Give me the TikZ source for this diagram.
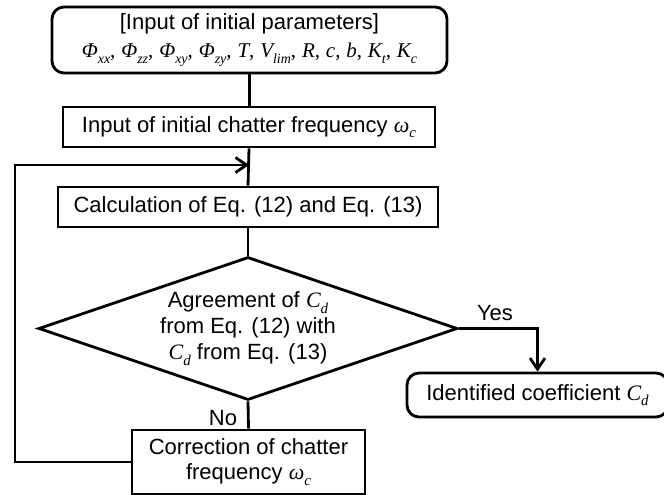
\documentclass[tikz,border=0pt]{standalone}
\usepackage{fontspec}
\setmainfont{Liberation Sans}
\newfontfamily\tms{Liberation Serif}
\usetikzlibrary{shapes.geometric,arrows.meta}
\newcommand\mi[1]{{\tms\itshape #1}}
\newcommand\sbs[1]{\raisebox{-0.26em}{\fontsize{15}{15}\selectfont\tms\itshape #1}}
\newcommand\sbt[1]{\raisebox{-0.26em}{\fontsize{14}{14}\selectfont\tms\itshape #1}}
\newcommand\tcm{{\tms,}}
\begin{document}
\begin{tikzpicture}[x=1pt,y=-1pt,
  lw/.style={line width=2.8pt},
  box/.style={draw, lw, rectangle, inner sep=0pt, align=center, font=\fontsize{22}{25}\selectfont},
  rbox/.style={box, rounded corners=12pt},
  conn/.style={lw},
  arr/.style={lw, -{Straight Barb[length=11pt,width=15pt]}},
  lab/.style={font=\fontsize{22}{25}\selectfont, inner sep=0pt}]
\useasboundingbox (0,0) rectangle (664,495);
\node[rbox, minimum width=395pt, minimum height=66pt, font=\fontsize{22}{28}\selectfont] (top) at (249.5,40)
  {[Input of initial parameters]\\
   {\fontsize{21}{28}\selectfont\mi{Φ}\sbt{xx}\tcm{} \mi{Φ}\sbt{zz}\tcm{} \mi{Φ}\sbt{xy}\tcm{} \mi{Φ}\sbt{zy}\tcm{} \mi{T}\tcm{} \mi{V}\sbt{lim}\tcm{} \mi{R}\tcm{} \mi{c}\tcm{} \mi{b}\tcm{} \mi{K}\sbt{t}\tcm{} \mi{K}\sbt{c}}};
\node[box, minimum width=372pt, minimum height=40pt] (inp) at (249,127)
  {Input of initial chatter frequency \mi{ω}\sbs{c}};
\node[box, minimum width=380pt, minimum height=40pt] (calc) at (248,207)
  {Calculation of Eq. (12) and Eq. (13)};
\node[draw, lw, diamond, aspect=2.93, minimum width=419pt, minimum height=143pt, inner sep=0pt,
  align=center, font=\fontsize{22}{26}\selectfont] (dec) at (248,328.5)
  {Agreement of \mi{C}\sbs{d}\\ from Eq. (12) with\\ \mi{C}\sbs{d} from Eq. (13)};
\node[box, minimum width=233pt, minimum height=64pt] (cor) at (248.5,462)
  {Correction of chatter\\ frequency \mi{ω}\sbs{c}};
\node[rbox, minimum width=261pt, minimum height=44pt] (idf) at (537.5,395)
  {Identified coefficient \mi{C}\sbs{d}};
\node[lab] (yes) at (495,313) {Yes};
\node[lab] (no) at (223,418) {No};
\coordinate (j) at (249,165);
\coordinate (l1) at (15,462);
\coordinate (l2) at (15,165);
\draw[conn] (top.south) -- (top.south |- inp.north);
\draw[conn] (inp.south) -- (calc.north);
\draw[conn] (calc.south) -- (dec.north);
\draw[conn] (dec.south) -- (cor.north);
\draw[arr] (dec.east) -| (idf.north);
\draw[arr] (cor.west) -- (l1) -- (l2) -- (j);
\end{tikzpicture}
\end{document}
